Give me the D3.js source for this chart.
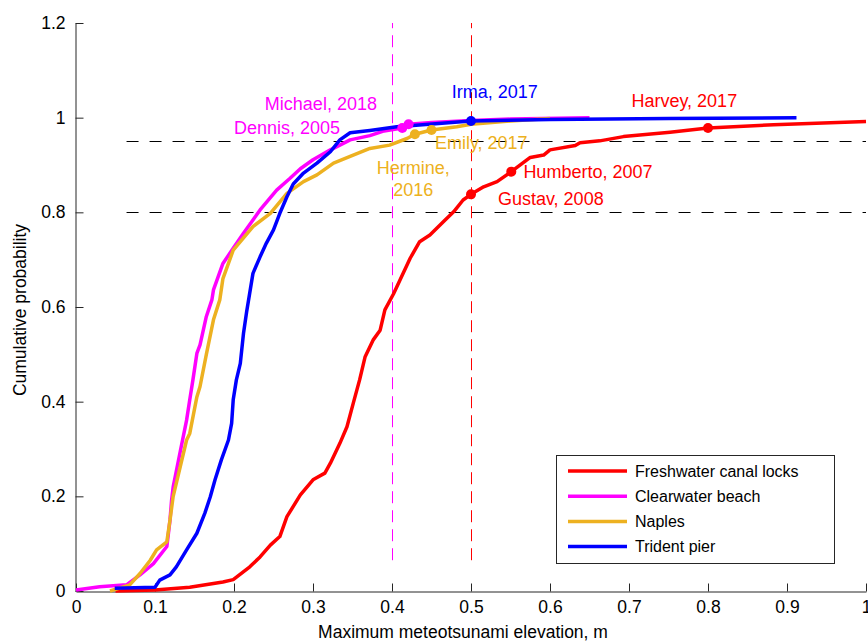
<!DOCTYPE html>
<html>
<head>
<meta charset="utf-8">
<script src="https://cdn.jsdelivr.net/npm/d3@7/dist/d3.min.js"></script>
<style>
body { margin: 0; background: #fff; }
text { font-family: "Liberation Sans", Arial, Helvetica, sans-serif; }
</style>
</head>
<body>
<div id="chart"></div>
<script>
// series names (legend order) and colours
var seriesNames = ["Freshwater canal locks", "Clearwater beach", "Naples", "Trident pier"]
var seriesColors = ["#ff0000", "#ff00ff", "#edb120", "#0000ff"]

var canalLocks = [[0.05,0],[0.10,0.002],[0.144,0.008],[0.186,0.019],[0.199,0.024],[0.22,0.051],[0.233,0.072],
    [0.246,0.097],[0.258,0.115],[0.267,0.157],[0.284,0.203],[0.300,0.235],[0.315,0.249],[0.322,0.27],[0.334,0.312],
    [0.343,0.347],[0.351,0.397],[0.359,0.446],[0.366,0.495],[0.376,0.530],[0.385,0.551],[0.391,0.594],[0.402,0.628],
    [0.423,0.703],[0.435,0.738],[0.448,0.752],[0.465,0.780],[0.478,0.801],[0.490,0.826],[0.5,0.838],[0.516,0.854],
    [0.533,0.865],[0.551,0.886],[0.575,0.916],[0.592,0.921],[0.6,0.932],[0.632,0.941],[0.638,0.947],[0.663,0.951],
    [0.693,0.960],[0.752,0.969],[0.8,0.978],[0.883,0.985],[1.0,0.992]]
var clearwater = [[0,0.002],[0.03,0.009],[0.064,0.013],[0.081,0.034],[0.098,0.058],[0.115,0.094],[0.119,0.15],
    [0.121,0.192],[0.123,0.220],[0.132,0.295],[0.140,0.361],[0.144,0.404],[0.148,0.446],[0.153,0.502],[0.157,0.52],
    [0.165,0.580],[0.172,0.615],[0.174,0.636],[0.186,0.692],[0.199,0.724],[0.212,0.756],[0.233,0.805],[0.254,0.847],
    [0.271,0.872],[0.284,0.892],[0.300,0.911],[0.322,0.932],[0.334,0.942],[0.347,0.953],[0.372,0.962],[0.39,0.972],
    [0.413,0.978],[0.421,0.986],[0.45,0.99],[0.5,0.994],[0.55,0.997],[0.65,1.0]]
var naples = [[0.043,0],[0.068,0.013],[0.081,0.037],[0.094,0.065],[0.102,0.087],[0.115,0.104],[0.119,0.15],
    [0.123,0.200],[0.132,0.263],[0.140,0.319],[0.144,0.333],[0.153,0.41],[0.157,0.432],[0.165,0.500],[0.174,0.573],
    [0.182,0.615],[0.186,0.660],[0.199,0.720],[0.224,0.770],[0.246,0.798],[0.267,0.840],[0.288,0.865],[0.305,0.879],
    [0.326,0.904],[0.347,0.918],[0.372,0.935],[0.397,0.942],[0.419,0.956],[0.429,0.965],[0.45,0.974],[0.482,0.981],
    [0.5,0.986],[0.55,0.993],[0.6,0.998]]
var tridentPier = [[0.049,0.006],[0.1,0.008],[0.106,0.023],[0.119,0.034],[0.127,0.051],[0.140,0.087],[0.153,0.122],
    [0.163,0.164],[0.170,0.199],[0.176,0.235],[0.184,0.277],[0.193,0.319],[0.197,0.354],[0.199,0.404],[0.203,0.446],
    [0.208,0.481],[0.212,0.544],[0.216,0.590],[0.224,0.671],[0.233,0.706],[0.241,0.735],[0.25,0.763],[0.258,0.798],
    [0.267,0.833],[0.275,0.860],[0.288,0.883],[0.305,0.904],[0.322,0.928],[0.334,0.953],[0.347,0.968],[0.372,0.973],
    [0.406,0.981],[0.5,0.993],[0.6,0.996],[0.75,0.998],[0.912,1.0]]

// named storms: series index, point on curve, label lines and label centre (data units)
var eventSeries = [1, 1, 3, 0, 2, 2, 0, 0]
var eventPoints = [[0.413,0.978],[0.421,0.986],[0.5,0.993],[0.8,0.978],[0.45,0.974],[0.429,0.965],[0.551,0.886],[0.5,0.838]]
var eventLabels = [["Dennis, 2005"],["Michael, 2018"],["Irma, 2017"],["Harvey, 2017"],["Emily, 2017"],
    ["Hermine,","2016"],["Humberto, 2007"],["Gustav, 2008"]]
var eventLabelPos = [[0.267,0.978],[0.310,1.029],[0.530,1.054],[0.770,1.035],[0.513,0.947],[0.427,0.894],[0.648,0.885],[0.601,0.828]]

// reference levels
var hLevels = [0.95, 0.8]
var vLevels = [0.4, 0.5]
var vColors = ["#ff00ff", "#ff0000"]

var xTicks = [0, 0.1, 0.2, 0.3, 0.4, 0.5, 0.6, 0.7, 0.8, 0.9, 1]
var yTicks = [0, 0.2, 0.4, 0.6, 0.8, 1, 1.2]

var W = 868, H = 641
var svg = d3.select("#chart").append("svg").attr("width", W).attr("height", H)
    .style("background", "#fff")

var x = d3.scaleLinear().domain([0, 1]).range([76, 866])
var y = d3.scaleLinear().domain([0, 1.2]).range([591, 23])
var axisColor = "#262626"

// dashed reference lines
svg.selectAll("line.h").data(hLevels).enter().append("line")
    .attr("x1", x(0.064)).attr("x2", x(1))
    .attr("y1", function(d) { return Math.round(y(d)) + 0.5 }).attr("y2", function(d) { return Math.round(y(d)) + 0.5 })
    .attr("stroke", "#000").attr("stroke-width", 1).attr("stroke-dasharray", "12,11")
svg.selectAll("line.v").data(vLevels).enter().append("line")
    .attr("x1", function(d) { return Math.round(x(d)) + 0.5 }).attr("x2", function(d) { return Math.round(x(d)) + 0.5 })
    .attr("y1", y(0.065)).attr("y2", y(1.2))
    .attr("stroke", function(d, i) { return vColors[i] }).attr("stroke-width", 1)
    .attr("stroke-dasharray", "12,7")

// axes
var xAxis = d3.axisBottom(x).tickValues(xTicks).tickSize(-8).tickSizeOuter(0).tickPadding(9.5)
    .tickFormat(function(d) { return String(d) })
var yAxis = d3.axisLeft(y).tickValues(yTicks).tickSize(-8).tickSizeOuter(0).tickPadding(10)
    .tickFormat(function(d) { return String(d) })

var gx = svg.append("g").attr("transform", "translate(0," + (y(0) + 0.5) + ")").call(xAxis)
var gy = svg.append("g").attr("transform", "translate(" + (x(0) - 0.5) + ",0)").call(yAxis)
;[gx, gy].forEach(function(g) {
    g.selectAll("path, line").attr("stroke", axisColor)
    g.selectAll("text").attr("fill", "#000").style("font-size", "17.5px")
})

svg.append("text").attr("x", 463).attr("y", 638).attr("text-anchor", "middle")
    .style("font-size", "17.5px").attr("fill", "#000")
    .text("Maximum meteotsunami elevation, m")
svg.append("text").attr("transform", "translate(26," + 310 + ") rotate(-90)")
    .attr("text-anchor", "middle").style("font-size", "17.5px").attr("fill", "#000")
    .text("Cumulative probability")

// curves
var allSeries = [canalLocks, clearwater, naples, tridentPier]
var line = d3.line().x(function(d) { return x(d[0]) }).y(function(d) { return y(d[1]) })
svg.selectAll("path.cdf").data(allSeries).enter().append("path")
    .attr("class", "cdf")
    .attr("d", line)
    .attr("fill", "none")
    .attr("stroke", function(d, i) { return seriesColors[i] })
    .attr("stroke-width", 3.5)
    .attr("stroke-linejoin", "round")

// storm markers
svg.selectAll("circle.ev").data(eventPoints).enter().append("circle")
    .attr("cx", function(d) { return x(d[0]) }).attr("cy", function(d) { return y(d[1]) })
    .attr("r", 5)
    .attr("fill", function(d, i) { return seriesColors[eventSeries[i]] })

// storm labels
eventLabels.forEach(function(lines, i) {
    var t = svg.append("text")
        .attr("x", x(eventLabelPos[i][0])).attr("y", y(eventLabelPos[i][1]))
        .attr("text-anchor", "middle")
        .style("font-size", "18px")
        .attr("fill", seriesColors[eventSeries[i]])
    lines.forEach(function(s, j) {
        t.append("tspan").attr("x", x(eventLabelPos[i][0])).attr("dy", j == 0 ? "0.35em" : "1.2em").text(s)
    })
})

// legend
var lg = svg.append("g").attr("transform", "translate(556,455)")
lg.append("rect").attr("x", 0.5).attr("y", 0.5).attr("width", 278).attr("height", 108)
    .attr("fill", "#fff").attr("stroke", axisColor).attr("stroke-width", 1)
seriesNames.forEach(function(name, i) {
    var ly = 16 + i * 25.2
    lg.append("line").attr("x1", 12).attr("x2", 71).attr("y1", ly).attr("y2", ly)
        .attr("stroke", seriesColors[i]).attr("stroke-width", 3.5)
    lg.append("text").attr("x", 79).attr("y", ly).attr("dy", "0.35em")
        .style("font-size", "16px").attr("fill", "#000").text(name)
})
</script>
</body>
</html>
